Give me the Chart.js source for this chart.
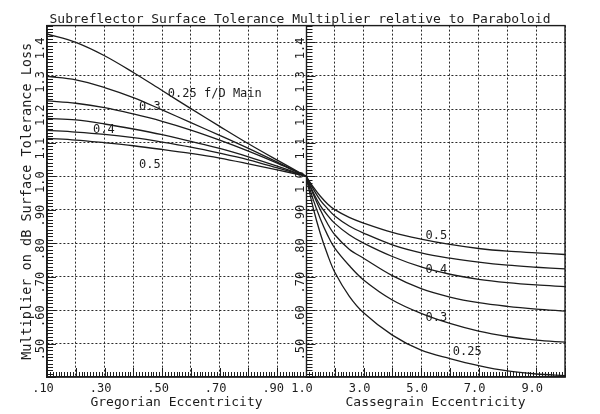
<!DOCTYPE html>
<html>
<head>
<meta charset="utf-8">
<title>Subreflector Surface Tolerance Multiplier</title>
<script src="https://cdn.jsdelivr.net/npm/chart.js@4.4.0/dist/chart.umd.min.js"></script>
<style>
  html, body { margin: 0; padding: 0; background: #fff; }
  canvas { display: block; }
</style>
</head>
<body>
<canvas id="tolChart" width="600" height="414"></canvas>
<script>
const INK = "#1c1c1c";
const MONO = "'DejaVu Sans Mono', 'Liberation Mono', monospace";

// Gregorian side (eccentricity < 1)
const GREG_ECC = [0.1, 0.2, 0.3, 0.4, 0.5, 0.6, 0.7, 0.8, 0.9, 1.0];
const GREG_025 = [1.425, 1.400, 1.360, 1.310, 1.256, 1.202, 1.149, 1.097, 1.048, 1.0];
const GREG_030 = [1.298, 1.288, 1.265, 1.235, 1.198, 1.160, 1.122, 1.083, 1.042, 1.0];
const GREG_035 = [1.225, 1.218, 1.205, 1.186, 1.164, 1.138, 1.108, 1.075, 1.039, 1.0];
const GREG_040 = [1.173, 1.168, 1.156, 1.141, 1.124, 1.104, 1.083, 1.058, 1.030, 1.0];
const GREG_045 = [1.137, 1.132, 1.125, 1.115, 1.102, 1.087, 1.069, 1.049, 1.025, 1.0];
const GREG_050 = [1.113, 1.108, 1.100, 1.091, 1.080, 1.068, 1.054, 1.037, 1.019, 1.0];

// Cassegrain side (eccentricity > 1)
const CASS_ECC = [1.0, 1.25, 1.5, 1.75, 2, 2.5, 3, 4, 5, 6, 7, 8, 9, 10];
const CASS_050 = [1.0, 0.968, 0.940, 0.917, 0.900, 0.877, 0.860, 0.832, 0.812, 0.796, 0.784, 0.776, 0.771, 0.766];
const CASS_045 = [1.0, 0.962, 0.928, 0.903, 0.881, 0.851, 0.830, 0.795, 0.771, 0.755, 0.743, 0.734, 0.728, 0.723];
const CASS_040 = [1.0, 0.952, 0.912, 0.883, 0.859, 0.825, 0.800, 0.760, 0.729, 0.707, 0.692, 0.682, 0.675, 0.670];
const CASS_035 = [1.0, 0.947, 0.899, 0.858, 0.825, 0.782, 0.755, 0.703, 0.664, 0.639, 0.622, 0.611, 0.603, 0.597];
const CASS_030 = [1.0, 0.930, 0.872, 0.824, 0.785, 0.733, 0.690, 0.630, 0.590, 0.560, 0.537, 0.521, 0.510, 0.504];
const CASS_025 = [1.0, 0.905, 0.828, 0.765, 0.713, 0.642, 0.592, 0.525, 0.480, 0.455, 0.434, 0.418, 0.409, 0.404];

const Y_TICKS = [0.5, 0.6, 0.7, 0.8, 0.9, 1.0, 1.1, 1.2, 1.3, 1.4];
const Y_TICK_LABELS = [".50", ".60", ".70", ".80", ".90", "1.0", "1.1", "1.2", "1.3", "1.4"];
const GREG_TICKS = [0.1, 0.2, 0.3, 0.4, 0.5, 0.6, 0.7, 0.8, 0.9, 1.0];
const GREG_TICK_LABELS = [".10", "", ".30", "", ".50", "", ".70", "", ".90", "1.0"];
const CASS_TICKS = [1, 2, 3, 4, 5, 6, 7, 8, 9, 10];
const CASS_TICK_LABELS = ["", "", "3.0", "", "5.0", "", "7.0", "", "9.0", ""];

// curve captions: [text, scale, x, y]
const CURVE_LABELS = [
  ["0.25 f/D Main", "xg", 0.52, 1.246],
  ["0.3", "xg", 0.42, 1.208],
  ["0.4", "xg", 0.26, 1.138],
  ["0.5", "xg", 0.42, 1.034],
  ["0.5", "xc", 5.15, 0.823],
  ["0.4", "xc", 5.15, 0.720],
  ["0.3", "xc", 5.15, 0.578],
  ["0.25", "xc", 6.1, 0.476]
];

function toPoints(xs, ys) {
  return xs.map((x, i) => ({ x: x, y: ys[i] }));
}

function curve(xs, ys, axisId) {
  return {
    data: toPoints(xs, ys),
    xAxisID: axisId,
    yAxisID: "y",
    borderColor: INK,
    borderWidth: 1.3,
    pointRadius: 0,
    fill: false,
    tension: 0.35
  };
}

const panelDecor = {
  id: "panelDecor",
  afterDatasetsDraw(chart) {
    const { ctx, chartArea: a } = chart;
    const { xg, xc, y } = chart.scales;
    const midX = Math.round(xg.getPixelForValue(1.0)) + 0.5;

    ctx.save();
    ctx.strokeStyle = INK;
    ctx.lineWidth = 1;
    ctx.beginPath();
    // small ticks up the left frame and the middle line
    for (let i = Math.ceil(y.min * 100); i <= Math.floor(y.max * 100); i++) {
      const py = Math.round(y.getPixelForValue(i / 100)) + 0.5;
      const len = i % 10 === 0 ? 9 : 6;
      ctx.moveTo(a.left, py); ctx.lineTo(a.left + len, py);
      ctx.moveTo(midX, py); ctx.lineTo(midX + len, py);
    }
    // small ticks along the bottom
    for (let i = 10; i <= 100; i++) {
      const px = Math.round(xg.getPixelForValue(i / 100)) + 0.5;
      ctx.moveTo(px, a.bottom); ctx.lineTo(px, a.bottom - (i % 10 === 0 ? 9 : 5));
    }
    for (let i = 10; i <= 100; i++) {
      const px = Math.round(xc.getPixelForValue(i / 10)) + 0.5;
      ctx.moveTo(px, a.bottom); ctx.lineTo(px, a.bottom - (i % 10 === 0 ? 9 : 5));
    }
    ctx.stroke();

    // frame and the solid divider at e = 1
    ctx.lineWidth = 1.4;
    ctx.strokeRect(a.left, a.top, a.width, a.height);
    ctx.beginPath();
    ctx.moveTo(midX, a.top); ctx.lineTo(midX, a.bottom);
    ctx.stroke();

    // rotated y labels, on the left frame and beside the divider
    ctx.fillStyle = INK;
    ctx.font = "12px " + MONO;
    ctx.textAlign = "center";
    ctx.textBaseline = "middle";
    Y_TICKS.forEach((v, i) => {
      const py = y.getPixelForValue(v) + 6;
      [a.left - 6, midX - 6].forEach(px => {
        ctx.save();
        ctx.translate(px, py);
        ctx.rotate(-Math.PI / 2);
        ctx.fillText(Y_TICK_LABELS[i], 0, 0);
        ctx.restore();
      });
    });

    // curve captions
    ctx.textAlign = "left";
    CURVE_LABELS.forEach(([text, axisId, vx, vy]) => {
      const sx = chart.scales[axisId];
      ctx.fillText(text, sx.getPixelForValue(vx), y.getPixelForValue(vy));
    });
    ctx.restore();
  }
};

function xAxis(min, max, ticks, labels, title) {
  return {
    type: "linear",
    position: "bottom",
    stack: "ecc",
    stackWeight: 1,
    min: min,
    max: max,
    afterBuildTicks: s => { s.ticks = ticks.map(v => ({ value: v })); },
    afterFit: s => { s.height = 37; },
    ticks: {
      color: INK,
      font: { size: 12, family: MONO },
      padding: 5,
      labelOffset: -4,
      maxRotation: 0,
      autoSkip: false,
      callback: (v, i) => labels[i]
    },
    grid: { color: "#2a2a2a", lineWidth: 1, drawTicks: false },
    border: { display: true, color: INK, width: 1.4, dash: [2, 2] },
    title: {
      display: true,
      text: title,
      color: INK,
      font: { size: 13, family: MONO },
      padding: { top: 0, bottom: 4 }
    }
  };
}

const datasets = [
  curve(GREG_ECC, GREG_025, "xg"),
  curve(GREG_ECC, GREG_030, "xg"),
  curve(GREG_ECC, GREG_035, "xg"),
  curve(GREG_ECC, GREG_040, "xg"),
  curve(GREG_ECC, GREG_045, "xg"),
  curve(GREG_ECC, GREG_050, "xg"),
  curve(CASS_ECC, CASS_050, "xc"),
  curve(CASS_ECC, CASS_045, "xc"),
  curve(CASS_ECC, CASS_040, "xc"),
  curve(CASS_ECC, CASS_035, "xc"),
  curve(CASS_ECC, CASS_030, "xc"),
  curve(CASS_ECC, CASS_025, "xc")
];

new Chart(document.getElementById("tolChart"), {
  type: "line",
  data: { datasets: datasets },
  options: {
    responsive: false,
    animation: false,
    layout: { padding: 0 },
    plugins: {
      legend: { display: false },
      tooltip: { enabled: false },
      title: {
        display: true,
        text: "Subreflector Surface Tolerance Multiplier relative to Paraboloid",
        color: INK,
        font: { size: 13, weight: "normal", family: MONO },
        padding: { top: 12, bottom: -2 }
      }
    },
    scales: {
      xg: xAxis(0.1, 1.0, GREG_TICKS, GREG_TICK_LABELS, "Gregorian Eccentricity"),
      xc: xAxis(1.0, 10, CASS_TICKS, CASS_TICK_LABELS, "Cassegrain Eccentricity"),
      y: {
        type: "linear",
        position: "left",
        min: 0.40,
        max: 1.45,
        afterBuildTicks: s => { s.ticks = Y_TICKS.map(v => ({ value: v })); },
        afterFit: s => { s.width = 47; },
        ticks: { display: false },
        grid: { color: "#2a2a2a", lineWidth: 1, drawTicks: false },
        border: { display: true, color: INK, width: 1.4, dash: [2, 2] },
        title: {
          display: true,
          text: "Multiplier on dB Surface Tolerance Loss",
          color: INK,
          font: { size: 13.5, family: MONO },
          padding: { top: 19, bottom: 0 }
        }
      },
      // empty strip on the right, keeps the page margin
      yr: {
        type: "linear",
        position: "right",
        min: 0.40,
        max: 1.45,
        afterFit: s => { s.width = 35; },
        ticks: { display: false },
        grid: { display: false, drawOnChartArea: false },
        border: { display: false }
      }
    }
  },
  plugins: [panelDecor]
});
</script>
</body>
</html>
